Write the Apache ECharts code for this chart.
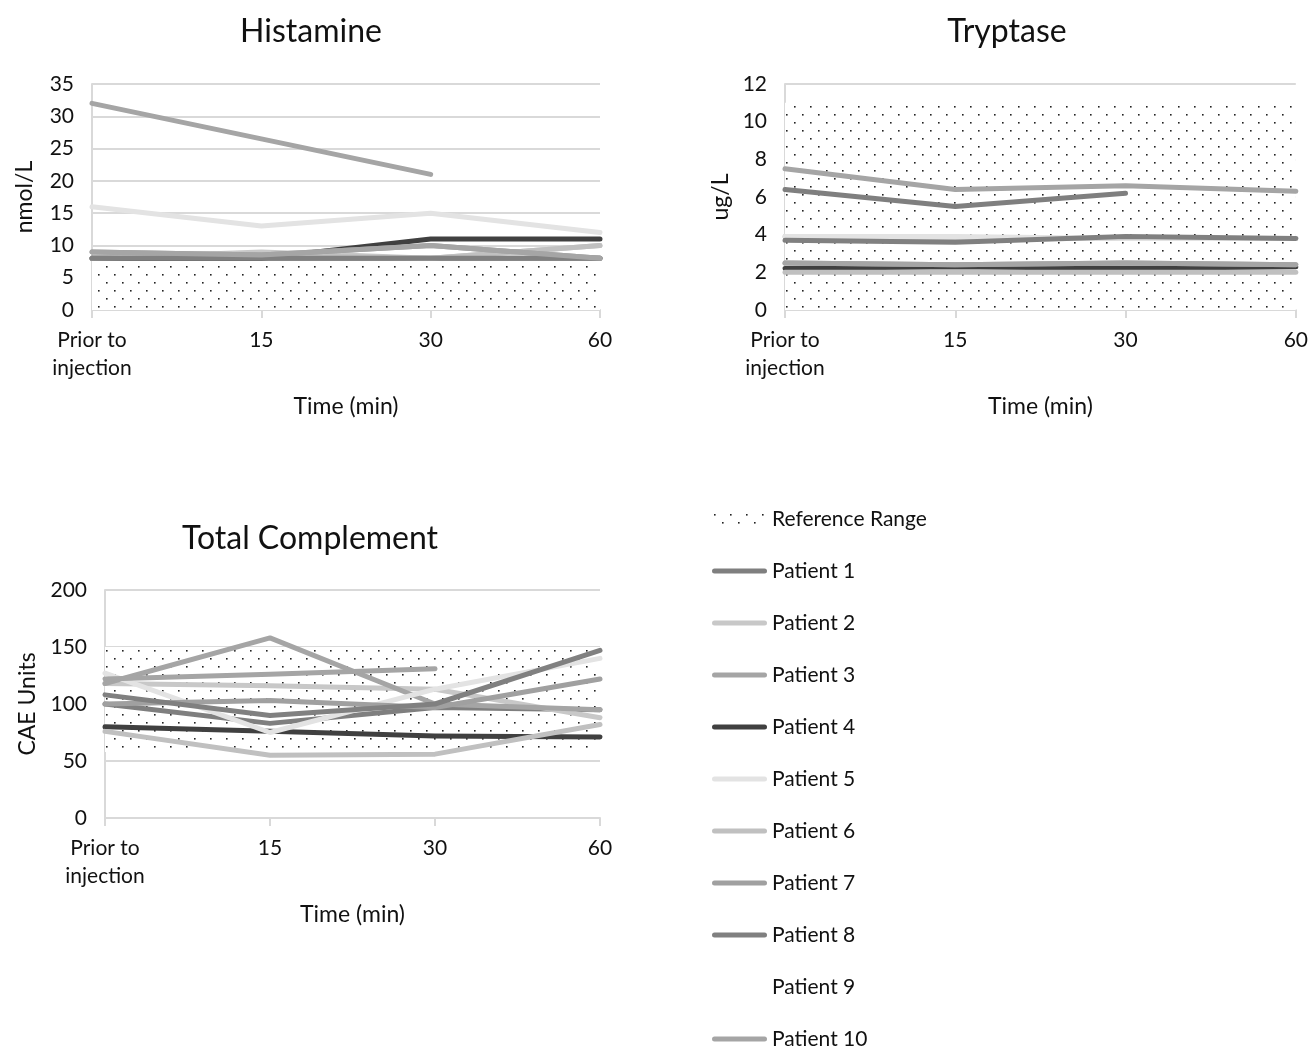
<!DOCTYPE html>
<html>
<head>
<meta charset="utf-8">
<script src="https://cdn.jsdelivr.net/npm/echarts@6/dist/echarts.min.js"></script>
<style>
html,body{margin:0;padding:0;background:#fff;}
#chart{width:1311px;height:1046px;}
</style>
</head>
<body>
<div id="chart"></div>
<script>
// ---- data ----
const timeLabels = ['Prior to\ninjection', '15', '30', '60'];
const patientNames = ['Patient 1','Patient 2','Patient 3','Patient 4','Patient 5','Patient 6','Patient 7','Patient 8','Patient 9','Patient 10'];
const patientColors = ['#7f7f7f','#c8c8c8','#a5a5a5','#404040','#e3e3e3','#c0c0c0','#a0a0a0','#808080','#ffffff','#a5a5a5'];

// Histamine (nmol/L)
const histRefLow = [0, 0, 0, 0];
const histRefHigh = [8, 8, 8, 8];
const histP1 = [8, 8, 8, 8];
const histP2 = [8, 9, 8, 10];
const histP3 = [32, 26.5, 21, null];
const histP4 = [8, 8, 11, 11];
const histP5 = [16, 13, 15, 12];
const histP6 = [8, 8.5, 8, 10];
const histP7 = [9, 8.5, 10, 8];
const histP8 = [8, 8, 8, 8];
const histP9 = [null, null, null, null];
const histP10 = [9, 8.5, 10, 8];

// Tryptase (ug/L)
const trypRefLow = [0, 0, 0, 0];
const trypRefHigh = [11, 11, 11, 11];
const trypP1 = [6.4, 5.5, 6.2, null];
const trypP2 = [3.9, 3.8, 3.8, 3.8];
const trypP3 = [7.5, 6.4, 6.6, 6.3];
const trypP4 = [2.2, 2.3, 2.2, 2.3];
const trypP5 = [3.9, 3.9, 3.8, 3.8];
const trypP6 = [2.0, 2.0, 2.0, 2.0];
const trypP7 = [2.5, 2.4, 2.5, 2.4];
const trypP8 = [3.7, 3.6, 3.9, 3.8];
const trypP9 = [null, null, null, null];
const trypP10 = [2.5, 2.4, 2.5, 2.4];

// Total Complement (CAE Units)
const compRefLow = [58, 58, 58, 58];
const compRefHigh = [150, 150, 150, 150];
const compP1 = [100, 83, 97, 95];
const compP2 = [118, 116, 113, 88];
const compP3 = [118, 158, 100, 95];
const compP4 = [80, 76, 72, 71];
const compP5 = [127, 75, 113, 140];
const compP6 = [76, 55, 56, 82];
const compP7 = [100, 103, 97, 122];
const compP8 = [108, 90, 100, 147];
const compP9 = [null, null, null, null];
const compP10 = [122, 126, 131, null];

const histSeries = [histP1,histP2,histP3,histP4,histP5,histP6,histP7,histP8,histP9,histP10];
const trypSeries = [trypP1,trypP2,trypP3,trypP4,trypP5,trypP6,trypP7,trypP8,trypP9,trypP10];
const compSeries = [compP1,compP2,compP3,compP4,compP5,compP6,compP7,compP8,compP9,compP10];

// ---- dotted pattern ----
function makePattern(){
  const c = document.createElement('canvas');
  c.width = 16; c.height = 16;
  const ctx = c.getContext('2d');
  ctx.fillStyle = '#fff';
  ctx.fillRect(0,0,16,16);
  ctx.fillStyle = '#222';
  ctx.fillRect(2,2,1.6,1.6);
  ctx.fillRect(10,10,1.6,1.6);
  return c;
}
const pattern = {image: makePattern(), repeat: 'repeat'};

const FONT = 'Lato, "Open Sans", sans-serif';
const txt = '#111';
const gridCol = '#d9d9d9';

const grids = [
  {left: 92, top: 84, width: 508, height: 226},
  {left: 785, top: 84, width: 512, height: 226},
  {left: 105, top: 590, width: 495, height: 228}
];
const yDefs = [
  {name: 'nmol/L', max: 35, interval: 5, nameGap: 56},
  {name: 'ug/L', max: 12, interval: 2, nameGap: 53},
  {name: 'CAE Units', max: 200, interval: 50, nameGap: 66}
];

const xAxes = grids.map((g, i) => ({
  type: 'category', gridIndex: i, data: timeLabels, boundaryGap: false,
  axisLine: {lineStyle: {color: gridCol, width: 2}},
  axisTick: {show: true, length: 8, lineStyle: {color: gridCol, width: 2}},
  axisLabel: {color: txt, fontSize: 21, fontFamily: FONT, margin: 16, lineHeight: 28},
  name: 'Time (min)', nameLocation: 'middle', nameGap: 85,
  nameTextStyle: {color: txt, fontSize: 23, fontFamily: FONT}
}));
const yAxes = yDefs.map((d, i) => ({
  type: 'value', gridIndex: i, min: 0, max: d.max, interval: d.interval,
  axisLine: {show: true, lineStyle: {color: gridCol, width: 2}},
  axisTick: {show: false},
  splitLine: {lineStyle: {color: gridCol, width: 2}},
  axisLabel: {color: txt, fontSize: 21, fontFamily: FONT, margin: 18},
  name: d.name, nameLocation: 'middle', nameGap: d.nameGap, nameRotate: 90,
  nameTextStyle: {color: txt, fontSize: 23, fontFamily: FONT}
}));

const series = [];
function addChart(idx, low, high, pats){
  series.push({
    name: 'refBase' + idx, type: 'line', xAxisIndex: idx, yAxisIndex: idx,
    stack: 'ref' + idx, data: low, symbol: 'none', silent: true,
    lineStyle: {opacity: 0}, z: 1
  });
  series.push({
    name: 'Reference Range', type: 'line', xAxisIndex: idx, yAxisIndex: idx,
    stack: 'ref' + idx, data: high.map((h, k) => h - low[k]), symbol: 'none', silent: true,
    lineStyle: {opacity: 0}, itemStyle: {color: pattern},
    areaStyle: {color: pattern, opacity: 1}, z: 1
  });
  pats.forEach((d, k) => {
    series.push({
      name: patientNames[k], type: 'line', xAxisIndex: idx, yAxisIndex: idx,
      data: d, symbol: 'none', connectNulls: false, z: 2,
      itemStyle: {color: patientColors[k]},
      lineStyle: {color: patientColors[k], width: 5, cap: 'round', join: 'round'}
    });
  });
}
addChart(0, histRefLow, histRefHigh, histSeries);
addChart(1, trypRefLow, trypRefHigh, trypSeries);
addChart(2, compRefLow, compRefHigh, compSeries);

const barIcon = 'path://M2.5,0H52.5A2.5,2.5,0,0,1,52.5,5H2.5A2.5,2.5,0,0,1,2.5,0Z';
const dotIcon = 'path://M0,0H55V9H0Z';
const legendData = [{name: 'Reference Range', icon: 'path://M0,0H50V9H0Z', itemStyle: {color: pattern}}]
  .concat(patientNames.map((n, k) => ({name: n, icon: barIcon, itemStyle: {color: patientColors[k]}})));

const option = {
  animation: false,
  backgroundColor: '#fff',
  title: [
    {text: 'Histamine', left: 306, top: 11, textAlign: 'center', textStyle: {fontSize: 32, fontWeight: 'normal', color: txt, fontFamily: FONT}},
    {text: 'Tryptase', left: 1002, top: 11, textAlign: 'center', textStyle: {fontSize: 32, fontWeight: 'normal', color: txt, fontFamily: FONT}},
    {text: 'Total Complement', left: 305, top: 518, textAlign: 'center', textStyle: {fontSize: 32, fontWeight: 'normal', color: txt, fontFamily: FONT}}
  ],
  legend: {
    orient: 'vertical', left: 707, top: 503, height: 560, itemWidth: 55, itemHeight: 14, itemGap: 30,
    symbolKeepAspect: true,
    data: legendData, selectedMode: false,
    textStyle: {color: txt, fontSize: 21, fontFamily: FONT, lineHeight: 22}
  },
  grid: grids,
  xAxis: xAxes,
  yAxis: yAxes,
  series: series
};
const chart = echarts.init(document.getElementById('chart'), null, {renderer: 'canvas'});
chart.setOption(option);
</script>
</body>
</html>
